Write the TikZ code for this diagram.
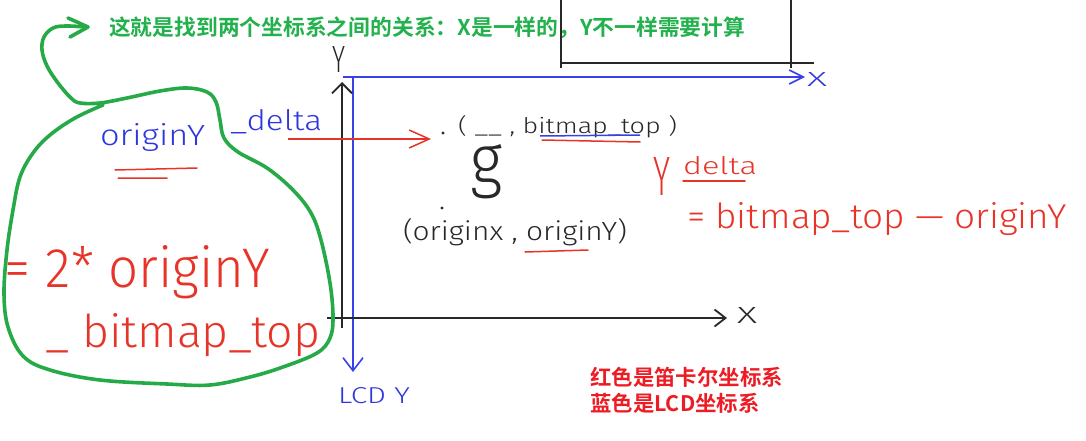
\documentclass[tikz,border=0pt]{standalone}
\usepackage{fontspec}
\usepackage{graphicx}
\setmainfont{Liberation Sans}
\newfontfamily\thin{Fira Sans Light}
\newfontfamily\cjk{Noto Sans CJK SC}[BoldFont={Noto Sans CJK SC Bold}]
\usetikzlibrary{arrows.meta}
\definecolor{gline}{RGB}{38,170,72}
\definecolor{gtext}{RGB}{34,177,76}
\definecolor{hred}{RGB}{232,52,40}
\definecolor{tred}{RGB}{237,28,36}
\definecolor{hblue}{RGB}{45,55,220}
\definecolor{lblue}{RGB}{55,65,235}
\definecolor{ink}{RGB}{40,40,40}
\newcommand\hw[3]{\resizebox{#1pt}{#2pt}{#3}}
\tikzset{
  hand/.style={inner sep=0pt, outer sep=0pt, anchor=base west, font=\thin},
  axisk/.style={ink, line width=1.8pt},
  axisb/.style={lblue, line width=1.6pt},
  uline/.style={hred, line width=1.5pt, line cap=round},
  cjktitle/.style={inner sep=0pt, anchor=west, text=gtext, font=\cjk\bfseries},
  cjkred/.style={inner sep=0pt, anchor=west, text=tred, font=\cjk\bfseries\fontsize{21.4}{24}\selectfont},
}
\begin{document}
\begin{tikzpicture}[x=1pt,y=-1pt]
\useasboundingbox (0,0) rectangle (1086,441);
% title
\node[cjktitle] (title) at (109,28) {\resizebox{636pt}{!}{这就是找到两个坐标系之间的关系：X是一样的，Y不一样需要计算}};
% top-right black rectangle
\coordinate (r1) at (561,0); \coordinate (r2) at (561,68);
\coordinate (r3) at (791,0); \coordinate (r4) at (791,68);
\coordinate (r5) at (561,63); \coordinate (r6) at (814,63);
\draw[ink, line width=1.6pt] (r1) -- (r2) (r3) -- (r4) (r5) -- (r6);
% blue LCD axes
\coordinate (bo) at (343,77); \coordinate (bx) at (805,77);
\coordinate (bv0) at (353,77); \coordinate (by) at (353,372);
\draw[axisb, -{Straight Barb[length=14pt,width=14pt]}] (bo) -- (bx);
\draw[axisb, -{Straight Barb[length=13pt,width=20pt]}] (bv0) -- (by);
\node[hand, text=hblue] (bxl) at (807,87) {\hw{20}{14}{X}};
\node[hand, text=hblue] (lcd) at (338,403) {\hw{72}{16}{LCD Y}};
% black cartesian axes
\coordinate (ko) at (342,328); \coordinate (ky) at (342,82);
\coordinate (kh0) at (327,318); \coordinate (kx) at (727,318);
\draw[axisk, -{Straight Barb[length=10pt,width=20pt]}] (ko) -- (ky);
\draw[axisk, -{Straight Barb[length=11pt,width=17pt]}] (kh0) -- (kx);
\node[hand, text=ink] (kyl) at (332,73) {\hw{13}{26}{Y}};
\node[hand, text=ink] (kxl) at (737,323) {\hw{20}{16}{X}};
% green loop
\draw[gline, line width=3.6pt, line cap=round, line join=round]
  plot[smooth, tension=0.6] coordinates {
  (103,105) (75,118) (50,135) (33,153) (20,177) (13,210) (7,250) (4,293) (8,327)
  (23,356) (50,370) (100,380) (167,384) (210,385) (250,377) (283,367) (317,353)
  (330,338) (333,317) (330,283) (321,240) (311,213) (293,190) (267,168) (238,152)
  (224,138) (220,120) (216,102) (207,92) (187,88) (160,91) (127,98) (100,103)
  (80,103) (71,98) (58,83) (47,66) (42,50) (44,37) (53,28) (66,26) (86,27)};
\coordinate (ga1) at (68,18); \coordinate (ga2) at (88,27); \coordinate (ga3) at (70,37);
\draw[gline, line width=3.6pt, line cap=round, line join=round] (ga1) -- (ga2) -- (ga3);
% left handwritten text
\node[hand, text=hblue] (oy) at (100,145) {\hw{105}{22}{originY}};
\node[hand, text=hblue] (dl) at (230,131) {\hw{92}{21}{\_delta}};
\coordinate (u1a) at (115,170); \coordinate (u1b) at (197,168);
\coordinate (u2a) at (118,178); \coordinate (u2b) at (167,178);
\draw[uline] (u1a) -- (u1b) (u2a) -- (u2b);
\node[hand, text=hred] (eq2) at (5,287) {\hw{265}{42}{= 2* originY}};
\node[hand, text=hred] (bt) at (45,347) {\hw{275}{34}{\_ bitmap\_top}};
% red arrow
\coordinate (ra0) at (288,139); \coordinate (ra1) at (431,139);
\draw[hred, line width=1.5pt, -{Straight Barb[length=20pt,width=18pt]}] (ra0) -- (ra1);
% central black annotations
\node[circle, fill=ink, inner sep=1.1pt] (d1) at (443,133) {};
\node[hand, text=ink] (pt1) at (458,133) {\hw{219}{18}{( \_\_ , bitmap\_top )}};
\coordinate (ub1) at (540,136); \coordinate (ub2) at (640,135);
\draw[lblue, line width=1.5pt] (ub1) -- (ub2);
\coordinate (ur1) at (542,140); \coordinate (ur2) at (640,142);
\draw[uline] (ur1) -- (ur2);
\node[hand, text=ink] (g) at (470,184) {\hw{32}{40}{g}};
\node[circle, fill=ink, inner sep=1.1pt] (d2) at (442,208) {};
\node[hand, text=ink] (pt2) at (403,240) {\hw{224}{22}{(originx , originY)}};
\coordinate (uo1) at (525,252); \coordinate (uo2) at (588,250);
\draw[uline] (uo1) -- (uo2);
% right red formula
\node[hand, text=hred] (ry) at (653,195) {\hw{17}{38}{Y}};
\node[hand, text=hred] (rd) at (683,175) {\hw{74}{18}{delta}};
\coordinate (ud1) at (683,181); \coordinate (ud2) at (745,181);
\draw[uline] (ud1) -- (ud2);
\node[hand, text=hred] (rf) at (687,228) {\hw{380}{26}{= bitmap\_top — originY}};
% legend
\node[cjkred] (leg1) at (590,377) {红色是笛卡尔坐标系};
\node[cjkred] (leg2) at (590,403) {蓝色是LCD坐标系};
\end{tikzpicture}
\end{document}
